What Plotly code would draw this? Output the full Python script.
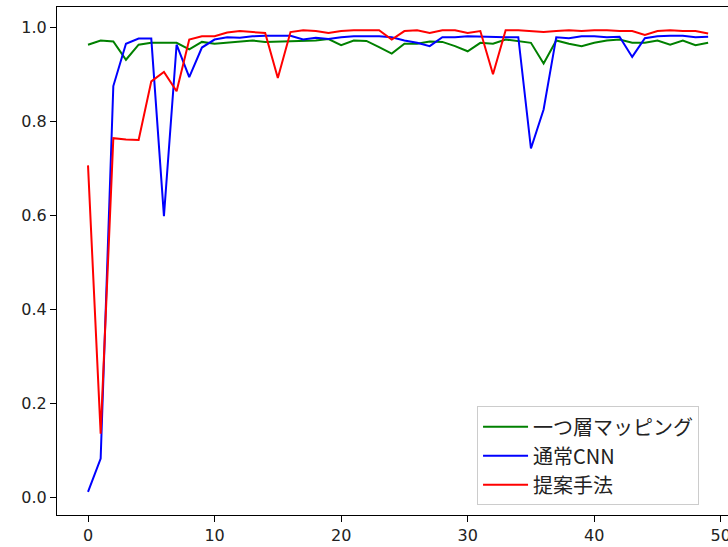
import plotly.graph_objects as go

epochs = list(range(50))

single_layer = [0.963, 0.972, 0.970, 0.931, 0.963, 0.967, 0.967, 0.967, 0.953, 0.969,
                0.965, 0.967, 0.969, 0.972, 0.969, 0.970, 0.970, 0.972, 0.972, 0.975,
                0.962, 0.972, 0.971, 0.958, 0.944, 0.965, 0.965, 0.970, 0.969, 0.960,
                0.949, 0.967, 0.965, 0.974, 0.970, 0.967, 0.923, 0.972, 0.965, 0.960,
                0.967, 0.972, 0.974, 0.967, 0.967, 0.972, 0.963, 0.972, 0.962, 0.967]

normal_cnn = [0.011, 0.082, 0.875, 0.965, 0.976, 0.976, 0.598, 0.963, 0.894, 0.957,
              0.974, 0.979, 0.978, 0.981, 0.982, 0.982, 0.982, 0.974, 0.978, 0.975,
              0.979, 0.981, 0.981, 0.981, 0.979, 0.972, 0.967, 0.960, 0.979, 0.979,
              0.981, 0.980, 0.979, 0.979, 0.979, 0.742, 0.825, 0.979, 0.977, 0.981,
              0.981, 0.979, 0.980, 0.937, 0.977, 0.981, 0.982, 0.982, 0.979, 0.980]

proposed = [0.706, 0.135, 0.764, 0.761, 0.760, 0.885, 0.905, 0.864, 0.974, 0.981,
            0.981, 0.989, 0.992, 0.990, 0.988, 0.892, 0.990, 0.994, 0.992, 0.988,
            0.992, 0.994, 0.994, 0.994, 0.974, 0.992, 0.994, 0.988, 0.994, 0.994,
            0.988, 0.992, 0.900, 0.994, 0.994, 0.992, 0.990, 0.992, 0.994, 0.992,
            0.994, 0.994, 0.992, 0.992, 0.984, 0.992, 0.994, 0.992, 0.992, 0.987]

series_names = ["一つ層マッピング", "通常CNN", "提案手法"]
series_colors = ["#008000", "#0000ff", "#ff0000"]
x_ticks = [0, 10, 20, 30, 40, 50]
y_ticks = [0.0, 0.2, 0.4, 0.6, 0.8, 1.0]

fig = go.Figure()
for name, vals, col in zip(series_names, [single_layer, normal_cnn, proposed], series_colors):
    fig.add_trace(go.Scatter(x=epochs, y=vals, mode="lines", name=name,
                             legendgroup=name,
                             line=dict(color=col, width=2)))

axis_common = dict(showgrid=False, zeroline=False, showline=True, linecolor="#000000",
                   linewidth=1, ticks="outside", ticklen=6, tickwidth=1, tickcolor="#000000",
                   tickfont=dict(family="DejaVu Sans", size=16, color="#222222"),
                   ticklabeloverflow="allow", automargin=False)

fig.update_layout(
    width=728, height=547,
    margin=dict(l=57, r=0, t=7, b=32, autoexpand=False),
    plot_bgcolor="white", paper_bgcolor="white",
    xaxis=dict(range=[-2.45, 50.57], tickvals=x_ticks, mirror=True, **axis_common),
    yaxis=dict(range=[-0.0383, 1.0433], tickvals=y_ticks, tickformat=".1f", mirror=False,
               **axis_common),
    legend=dict(x=0.626, y=0.214, xanchor="left", yanchor="top",
                bgcolor="rgba(255,255,255,0.8)", bordercolor="#cccccc", borderwidth=1,
                font=dict(family="Noto Sans CJK JP", size=20, color="#222222"),
                tracegroupgap=0, itemwidth=45, entrywidth=240, entrywidthmode="pixels"),
    showlegend=True,
)

fig.write_html("out.html")
